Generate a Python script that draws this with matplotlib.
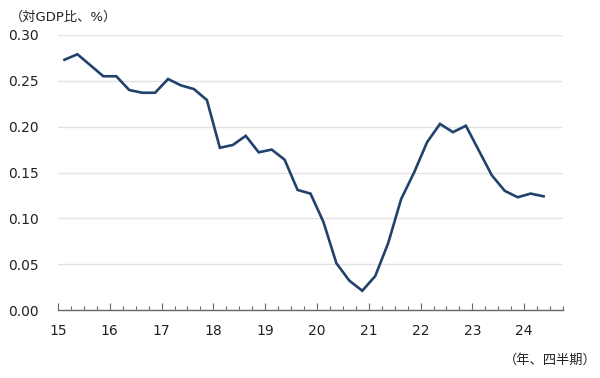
import matplotlib
matplotlib.use("Agg")
import matplotlib.pyplot as plt
from matplotlib.ticker import FixedLocator, MultipleLocator

plt.rcParams['font.family'] = ['DejaVu Sans', 'Noto Sans CJK JP']

# quarterly values, 2015Q1 - 2024Q2
values = [0.273, 0.279, 0.267, 0.255, 0.255, 0.240, 0.237, 0.237, 0.252, 0.245,
          0.241, 0.229, 0.177, 0.180, 0.190, 0.172, 0.175, 0.164, 0.131, 0.127,
          0.096, 0.051, 0.032, 0.021, 0.037, 0.073, 0.121, 0.150, 0.183, 0.203,
          0.194, 0.201, 0.174, 0.147, 0.130, 0.123, 0.127, 0.124]
year_labels = ['15', '16', '17', '18', '19', '20', '21', '22', '23', '24']
y_ticks = [0.00, 0.05, 0.10, 0.15, 0.20, 0.25, 0.30]
n_slots = 39

fig = plt.figure(figsize=(6, 3.78), dpi=100)
ax = fig.add_axes([58/600, 68/378, 505/600, 275/378])

x = [i + 0.5 for i in range(len(values))]
ax.plot(x, values, color='#23416d', lw=1.9, solid_joinstyle='miter', zorder=3)

ax.set_xlim(0, n_slots)
ax.set_ylim(0, 0.30)
ax.set_yticks(y_ticks)
ax.set_yticklabels(['%.2f' % v for v in y_ticks])
ax.yaxis.grid(True, color='#e3e3e3', lw=1)
ax.set_axisbelow(True)

ax.xaxis.set_major_locator(FixedLocator([4 * k for k in range(len(year_labels))]))
ax.set_xticklabels(year_labels)
ax.xaxis.set_minor_locator(MultipleLocator(1))

for s in ['top', 'right', 'left']:
    ax.spines[s].set_visible(False)
ax.spines['bottom'].set_color('#666666')
ax.spines['bottom'].set_linewidth(1)

ax.tick_params(axis='y', length=0, pad=14, labelsize=10, colors='#222222')
ax.tick_params(axis='x', which='major', direction='in', length=5, width=0.8,
               color='#666666', pad=10, labelsize=10, labelcolor='#222222')
ax.tick_params(axis='x', which='minor', direction='in', length=3, width=0.8,
               color='#666666')

fig.text(10/600, 1 - 17/378, '（対GDP比、%）', fontsize=9.5, va='center', ha='left',
         color='#222222')
fig.text(597/600, 1 - 360/378, '（年、四半期）', fontsize=9.5, va='center', ha='right',
         color='#222222')

fig.savefig('out.png', dpi=100)
